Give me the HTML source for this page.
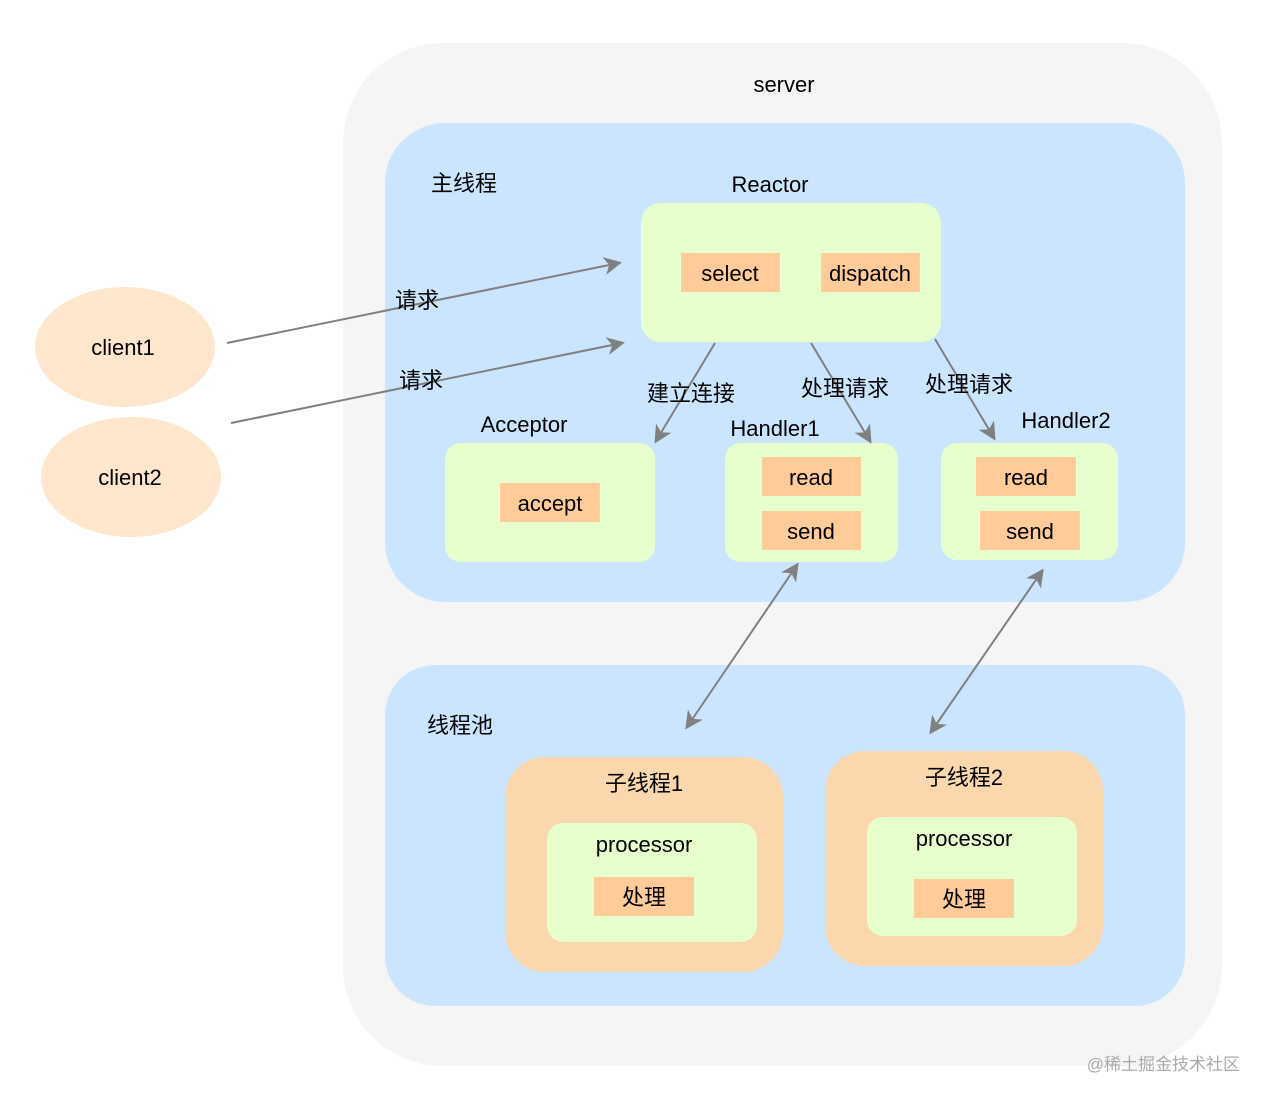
<!DOCTYPE html>
<html><head><meta charset="utf-8"><style>html,body{margin:0;padding:0;background:#fff}</style></head><body>
<svg width="1268" height="1102" xmlns="http://www.w3.org/2000/svg" font-family="Liberation Sans, Noto Sans CJK SC, sans-serif" font-size="22" text-anchor="middle">
<defs><marker id="a" markerWidth="10" markerHeight="10" refX="8" refY="5" orient="auto-start-reverse" markerUnits="userSpaceOnUse" viewBox="0 0 10 10"><path d="M0,0 L10,5 L0,10 L3,5 Z" fill="#808080"/></marker>
<marker id="b" markerWidth="18" markerHeight="18" refX="15" refY="9" orient="auto-start-reverse" markerUnits="userSpaceOnUse" viewBox="0 0 18 18"><path d="M0,0 L18,9 L0,18 L5,9 Z" fill="#808080"/></marker></defs>
<rect x="343" y="43" width="879" height="1023" rx="100" fill="#f5f5f5"/>
<text x="784" y="92">server</text>
<rect x="385" y="123" width="800" height="479" rx="60" fill="#cce5ff"/>
<text x="464" y="191">主线程</text>
<text x="770" y="192">Reactor</text>
<rect x="641" y="203" width="300" height="139" rx="20" fill="#e6ffcc"/>
<rect x="681" y="253" width="99" height="39" fill="#ffcc99"/><text x="730" y="281">select</text>
<rect x="821" y="253" width="99" height="39" fill="#ffcc99"/><text x="870" y="281">dispatch</text>
<text x="524" y="432">Acceptor</text>
<rect x="445" y="443" width="210" height="119" rx="16" fill="#e6ffcc"/>
<rect x="500" y="483" width="100" height="39" fill="#ffcc99"/><text x="550" y="511">accept</text>
<text x="775" y="436">Handler1</text>
<rect x="725" y="443" width="173" height="119" rx="16" fill="#e6ffcc"/>
<rect x="762" y="457" width="99" height="39" fill="#ffcc99"/><text x="811" y="485">read</text>
<rect x="762" y="511" width="99" height="39" fill="#ffcc99"/><text x="811" y="539">send</text>
<text x="1066" y="428">Handler2</text>
<rect x="941" y="443" width="177" height="117" rx="16" fill="#e6ffcc"/>
<rect x="976" y="457" width="100" height="39" fill="#ffcc99"/><text x="1026" y="485">read</text>
<rect x="980" y="511" width="100" height="39" fill="#ffcc99"/><text x="1030" y="539">send</text>
<rect x="385" y="665" width="800" height="341" rx="50" fill="#cce5ff"/>
<text x="460" y="733">线程池</text>
<rect x="505" y="757" width="278" height="215" rx="40" fill="#fad7ac"/>
<text x="644" y="791">子线程1</text>
<rect x="547" y="823" width="210" height="119" rx="16" fill="#e6ffcc"/>
<text x="644" y="852">processor</text>
<rect x="594" y="877" width="100" height="39" fill="#ffcc99"/><text x="644" y="905">处理</text>
<rect x="825" y="751" width="278" height="215" rx="40" fill="#fad7ac"/>
<text x="964" y="785">子线程2</text>
<rect x="867" y="817" width="210" height="119" rx="16" fill="#e6ffcc"/>
<text x="964" y="846">processor</text>
<rect x="914" y="879" width="100" height="39" fill="#ffcc99"/><text x="964" y="907">处理</text>
<ellipse cx="125" cy="347" rx="90" ry="60" fill="#ffe6cc"/><text x="123" y="355">client1</text>
<ellipse cx="131" cy="477" rx="90" ry="60" fill="#ffe6cc"/><text x="130" y="485">client2</text>
<g stroke="#808080" stroke-width="2" fill="none">
<line x1="227" y1="343" x2="619" y2="263" marker-end="url(#b)"/>
<line x1="231" y1="423" x2="622" y2="343" marker-end="url(#b)"/>
<line x1="715" y1="343" x2="656" y2="441" marker-end="url(#b)"/>
<line x1="811" y1="343" x2="870" y2="441" marker-end="url(#b)"/>
<line x1="935" y1="339" x2="994" y2="438" marker-end="url(#b)"/>
<line x1="797" y1="565" x2="687" y2="727" marker-start="url(#b)" marker-end="url(#b)"/>
<line x1="1042" y1="571" x2="931" y2="732" marker-start="url(#b)" marker-end="url(#b)"/>
</g>
<text x="417" y="308">请求</text>
<text x="421" y="388">请求</text>
<text x="691" y="401">建立连接</text>
<text x="845" y="396">处理请求</text>
<text x="969" y="392">处理请求</text>
<text x="1240" y="1070" text-anchor="end" font-size="17" fill="#aaa">@稀土掘金技术社区</text>
</svg>
</body></html>
